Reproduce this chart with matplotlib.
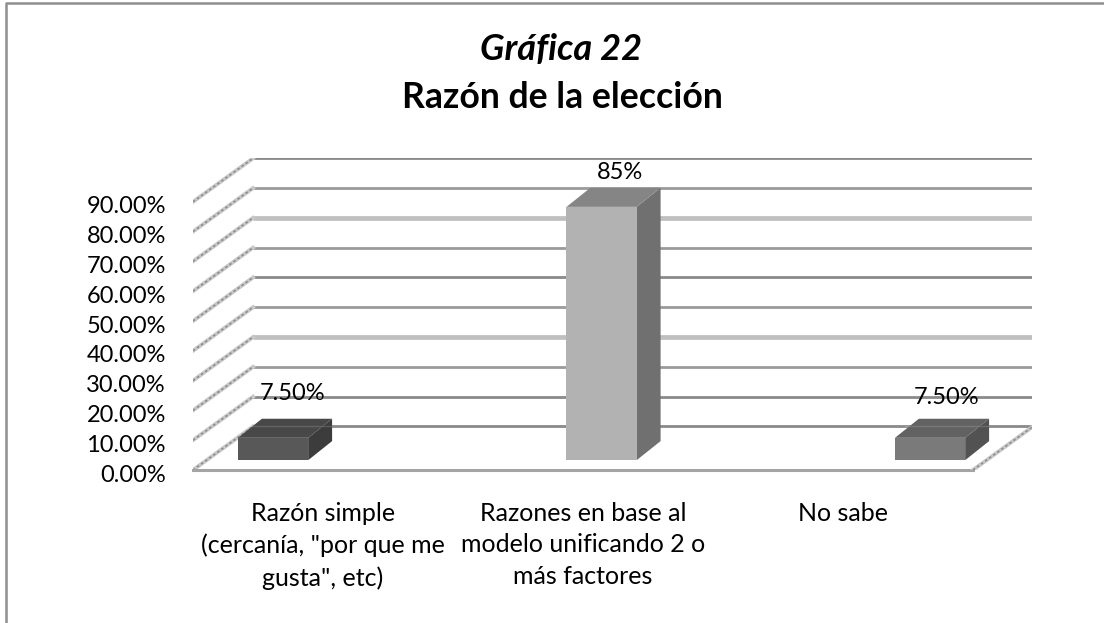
import matplotlib
matplotlib.use('Agg')
import matplotlib.pyplot as plt
from matplotlib.lines import Line2D
from matplotlib.patches import Polygon, Rectangle
from matplotlib.transforms import ScaledTranslation

categories = ['Razón simple\n(cercanía, "por que me\ngusta", etc)',
              'Razones en base al\nmodelo unificando 2 o\nmás factores',
              'No sabe']
values = [7.5, 85, 7.5]
value_labels = ['7.50%', '85%', '7.50%']
ticks = [0, 10, 20, 30, 40, 50, 60, 70, 80, 90]
tick_labels = ['0.00%', '10.00%', '20.00%', '30.00%', '40.00%',
               '50.00%', '60.00%', '70.00%', '80.00%', '90.00%']

# greys as they came out in the scan
front_cols = ['#585858', '#b2b2b2', '#7a7a7a']
top_cols = ['#484848', '#858585', '#626262']
side_cols = ['#3c3c3c', '#707070', '#525252']
grid_cols = ['#8a8a8a', '#8a8a8a', '#9a9a9a', '#bfbfbf', '#9a9a9a',
             '#8a8a8a', '#9a9a9a', '#bfbfbf', '#9a9a9a', '#8a8a8a']
grid_lw = [2, 2, 2, 3.4, 2, 2, 2, 3.4, 2, 2]

plt.rcParams['font.family'] = ['Lato', 'DejaVu Sans']

W, H = 1104, 623
fig = plt.figure(figsize=(W / 100, H / 100), dpi=100)
fig.patch.set_facecolor('white')

# only the left and top edge of the chart frame are in the image
fig.add_artist(Line2D([6 / W, 6 / W, 1], [0, 1 - 3 / H, 1 - 3 / H], transform=fig.transFigure,
                      color='#8f8f8f', lw=1.8))

# axes box: floor front at y=470, top of back wall at y=158
ax = fig.add_axes([193 / W, 1 - 470 / H, 839 / W, 312 / H])
ax.set_xlim(-0.5, 2.727)
ax.set_ylim(0, 104.7)
ax.patch.set_visible(False)
for s in ax.spines.values():
    s.set_visible(False)

# depth of the walls
dx = 0.2308
dy = 14.6

# walls and floor
for i, t in enumerate(ticks):
    ax.plot([-0.5 + dx, 2.5 + dx], [t + dy, t + dy], color=grid_cols[i], lw=grid_lw[i],
            solid_capstyle='butt', zorder=1)
    ax.plot([-0.5, -0.5 + dx], [t, t + dy], color='#c8c8c8', lw=2.8, zorder=1)
    ax.plot([-0.5, -0.5 + dx], [t, t + dy], color='#8c8c8c', lw=1.2, ls=(0, (1.5, 1.5)), zorder=1)
ax.plot([-0.5, 2.5], [0, 0], color='#a4a4a4', lw=2.2, zorder=1, clip_on=False)
ax.plot([2.5, 2.5 + dx], [0, dy], color='#c8c8c8', lw=2.8, zorder=1)
ax.plot([2.5, 2.5 + dx], [0, dy], color='#8c8c8c', lw=1.2, ls=(0, (1.5, 1.5)), zorder=1)

# bars don't line up with the category labels in the original
bar_start = -0.192
bar_step = 1.2635
bar_w = 0.27
bar_base = 3.3
bar_dx = 0.092
bar_dy = 6.4
label_gap = [14.8, 11.4, 13.4]
label_shift = [0.075, 0.07, 0.065]

for i, v in enumerate(values):
    x0 = bar_start + i * bar_step - bar_w / 2
    x1 = x0 + bar_w
    y0 = bar_base
    y1 = bar_base + v
    ax.add_patch(Polygon([(x1, y0), (x1 + bar_dx, y0 + bar_dy), (x1 + bar_dx, y1 + bar_dy), (x1, y1)],
                         fc=side_cols[i], ec='none', zorder=3))
    ax.add_patch(Polygon([(x0, y1), (x0 + bar_dx, y1 + bar_dy), (x1 + bar_dx, y1 + bar_dy), (x1, y1)],
                         fc=top_cols[i], ec='none', zorder=3))
    ax.add_patch(Rectangle((x0, y0), bar_w, v, fc=front_cols[i], ec='none', zorder=3))
    # the back floor line shows faintly through the short bars
    if v < dy:
        ax.plot([x0 + bar_dx * 0.4, x1 + bar_dx], [dy, dy], color='white', alpha=0.15, lw=1, zorder=4)
    ax.text(x0 + bar_w / 2 + label_shift[i], y1 + label_gap[i], value_labels[i], ha='center', va='center',
            fontsize=17, color='black', zorder=5)

ax.set_xticks(range(len(categories)))
ax.set_xticklabels(categories, fontsize=18, linespacing=1.45)
ax.set_yticks(ticks)
ax.set_yticklabels(tick_labels, fontsize=17)
ax.tick_params(axis='both', length=0)
ax.tick_params(axis='x', pad=23)
ax.tick_params(axis='y', pad=19.5)

# y labels sit a little below their lines
shift = ScaledTranslation(0, -3 / 100, fig.dpi_scale_trans)
for lab in ax.get_yticklabels():
    lab.set_transform(lab.get_transform() + shift)

fig.text(561 / W, 1 - 50 / H, 'Gráfica 22', ha='center', va='center', fontsize=26, style='italic', fontweight='bold')
fig.text(562 / W, 1 - 98 / H, 'Razón de la elección', ha='center', va='center', fontsize=25.7, fontweight='bold')

fig.savefig('out.png', dpi=100)
